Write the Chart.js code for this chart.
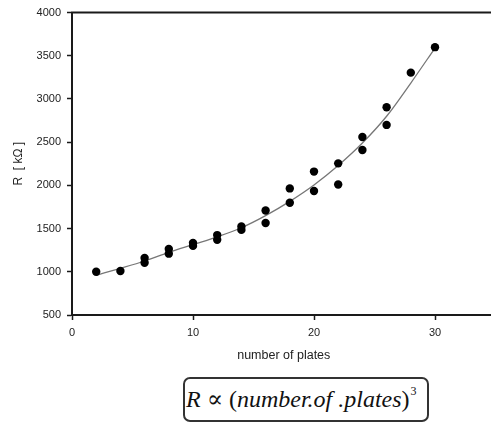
<!DOCTYPE html>
<html>
<head>
<meta charset="utf-8">
<script src="https://cdn.jsdelivr.net/npm/chart.js@4/dist/chart.umd.min.js"></script>
<style>
  html, body { margin: 0; padding: 0; background: #fff; }
  body { width: 491px; height: 425px; overflow: hidden; position: relative; }
  #wrap { position: absolute; left: 0; top: 0; width: 500px; height: 363px; }
  #formula {
    position: absolute; left: 183px; top: 377px; width: 241px; height: 41px;
    border: 2px solid #333; border-radius: 7px;
    font-family: "Liberation Serif", "DejaVu Serif", serif; font-size: 24px;
    line-height: 41px; padding-left: 1px; color: #111; white-space: nowrap;
  }
  #formula i { font-style: italic; }
  #formula sup { font-size: 12px; vertical-align: 0; position: relative; top: -12px; margin-left: 1px; }
</style>
</head>
<body>
<div id="wrap"><canvas id="chart"></canvas></div>
<div id="formula"><i>R</i> ∝ (<i>number.of .plates</i>)<sup>3</sup></div>
<script>
// measured points: number of plates vs resistance [kOhm]
const plates = [2, 4, 6, 6, 8, 8, 10, 10, 12, 12, 14, 14, 16, 16, 18, 18, 20, 20, 22, 22, 24, 24, 26, 26, 28, 30];
const resistance = [1000, 1010, 1160, 1105, 1265, 1210, 1335, 1300, 1425, 1370, 1525, 1485, 1710, 1565,
                    1965, 1800, 2160, 1935, 2255, 2010, 2560, 2410, 2905, 2700, 3305, 3600];

// fitted curve
const fitPlates = [2, 4, 6, 8, 10, 12, 14, 16, 18, 20, 22, 24, 26, 28, 30];
const fitResistance = [960, 1040, 1125, 1225, 1315, 1405, 1510, 1650, 1815, 2005, 2230, 2490, 2800, 3185, 3590];

const xTicks = [0, 10, 20, 30];
const yTicks = [500, 1000, 1500, 2000, 2500, 3000, 3500, 4000];

const AXIS = '#1a1a1a';
const TICK_FONT = { family: 'Liberation Sans, Arial, sans-serif', size: 11 };

const topBorder = {
    id: 'topBorder',
    afterDraw(chart) {
        const { ctx, chartArea } = chart;
        ctx.save();
        ctx.strokeStyle = AXIS;
        ctx.lineWidth = 2;
        ctx.beginPath();
        ctx.moveTo(chartArea.left - 1, chartArea.top);
        ctx.lineTo(chartArea.right + 10, chartArea.top);
        ctx.stroke();
        ctx.restore();
    },
};

new Chart(document.getElementById('chart'), {
    type: 'scatter',
    data: {
        datasets: [
            {
                label: 'measured',
                data: plates.map((n, i) => ({ x: n, y: resistance[i] })),
                backgroundColor: '#000',
                borderColor: '#000',
                pointRadius: 4.2,
                pointBorderWidth: 0,
                order: 0,
            },
            {
                label: 'fit',
                data: fitPlates.map((n, i) => ({ x: n, y: fitResistance[i] })),
                showLine: true,
                borderColor: '#777',
                borderWidth: 1.3,
                pointRadius: 0,
                cubicInterpolationMode: 'monotone',
                order: 1,
            },
        ],
    },
    options: {
        responsive: true,
        maintainAspectRatio: false,
        animation: false,
        layout: { padding: { top: 11, right: 4.5, left: 0, bottom: 0 } },
        plugins: { legend: { display: false }, tooltip: { enabled: false } },
        scales: {
            x: {
                type: 'linear',
                min: 0,
                max: 35,
                afterBuildTicks: s => { s.ticks = xTicks.map(v => ({ value: v })); },
                afterFit: s => { s.height = 48; },
                border: { display: true, color: AXIS, width: 2 },
                grid: { display: true, drawOnChartArea: false, drawTicks: true, tickLength: 5, tickWidth: 1.5, tickColor: AXIS },
                ticks: { color: '#222', font: TICK_FONT, padding: 6, maxRotation: 0, callback: v => String(v) },
                title: {
                    display: true,
                    text: 'number of plates',
                    color: '#222',
                    font: { family: 'Liberation Sans, Arial, sans-serif', size: 12.5 },
                    padding: 0,
                },
            },
            y: {
                type: 'linear',
                min: 500,
                max: 4000,
                afterBuildTicks: s => { s.ticks = yTicks.map(v => ({ value: v })); },
                afterFit: s => { s.width = 72; },
                border: { display: true, color: AXIS, width: 2 },
                grid: { display: true, drawOnChartArea: false, drawTicks: true, tickLength: 5, tickWidth: 1.5, tickColor: AXIS },
                ticks: { color: '#222', font: TICK_FONT, padding: 6, callback: v => String(v) },
                title: {
                    display: true,
                    text: 'R  [ kΩ ]',
                    color: '#222',
                    font: { family: 'Liberation Sans, Arial, sans-serif', size: 12 },
                    padding: { top: 11, bottom: 0 },
                },
            },
        },
    },
    plugins: [topBorder],
});
</script>
</body>
</html>
